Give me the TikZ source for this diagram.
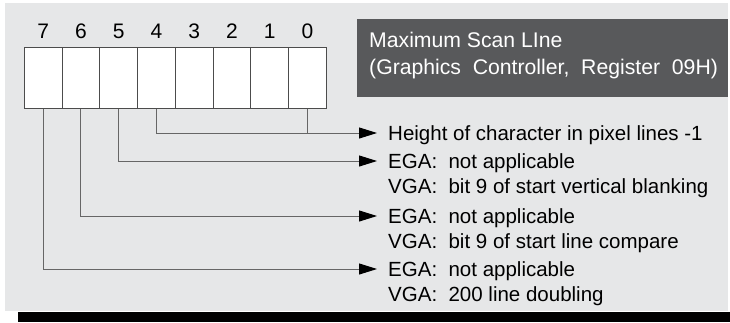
\documentclass[tikz,border=0pt]{standalone}
\usepackage{fontspec}
\setmainfont{Liberation Sans}
\usetikzlibrary{arrows.meta,positioning}

\definecolor{panel}{HTML}{E6E7E8}
\definecolor{titlegray}{HTML}{58595B}
\definecolor{wiregray}{HTML}{666666}

\tikzset{
  bitbox/.style={draw=black!70, fill=white, line width=1pt, minimum width=37.75pt, minimum height=61pt, inner sep=0pt},
  bitnum/.style={inner sep=0pt, text height=14pt, text depth=0pt, font=\fontsize{21}{25}\selectfont},
  ttl/.style={anchor=west, inner sep=0pt, text height=14pt, text depth=0pt, text=white, font=\fontsize{21.2}{25}\selectfont},
  lbl/.style={anchor=west, inner xsep=11pt, inner ysep=0pt, text height=14pt, text depth=0pt},
  wire/.style={draw=wiregray, line width=1pt},
  arr/.style={wire, -{Triangle[length=18pt,width=11pt,color=black]}},
}

\begin{document}
\begin{tikzpicture}[x=1pt, y=-1pt, font=\fontsize{20.5}{25}\selectfont]
  \useasboundingbox (0,0) rectangle (730,322);
  \fill[panel] (5,3) rectangle (728,311);
  \fill[black] (18,312) rectangle (730,322);
  % register bits 7..0
  \foreach \i in {0,...,7} {
    \node[bitbox] (b\i) at ({43.2+37.75*(7-\i)}, 77.5) {};
    \node[bitnum, above=8pt of b\i.north] (n\i) {\i};
  }
  % title
  \node[fill=titlegray, minimum width=371pt, minimum height=78pt, anchor=north west, inner sep=0pt] (title) at (357,19) {};
  \node[ttl] (ttl1) at (369,40) {Maximum Scan LIne};
  \node[ttl] (ttl2) at ([yshift=-27pt]ttl1.west) {(Graphics\ \ Controller,\ \ Register\ \ 09H)};
  % field descriptions
  \node[lbl] (h0) at (377,133) {Height of character in pixel lines -1};
  \node[lbl] (e5) at (377,161) {EGA:\ \ not applicable};
  \node[lbl] (v5) at ([yshift=-25pt]e5.west) {VGA:\ \ bit 9 of start vertical blanking};
  \node[lbl] (e6) at (377,216) {EGA:\ \ not applicable};
  \node[lbl] (v6) at ([yshift=-25pt]e6.west) {VGA:\ \ bit 9 of start line compare};
  \node[lbl] (e7) at (377,269) {EGA:\ \ not applicable};
  \node[lbl] (v7) at ([yshift=-25pt]e7.west) {VGA:\ \ 200 line doubling};
  % connectors
  \draw[wire] (b0.south) -- (b0.south |- h0.west);
  \draw[arr] (b4.south) |- (h0.west);
  \draw[arr] (b5.south) |- (e5.west);
  \draw[arr] (b6.south) |- (e6.west);
  \draw[arr] (b7.south) |- (e7.west);
\end{tikzpicture}
\end{document}
